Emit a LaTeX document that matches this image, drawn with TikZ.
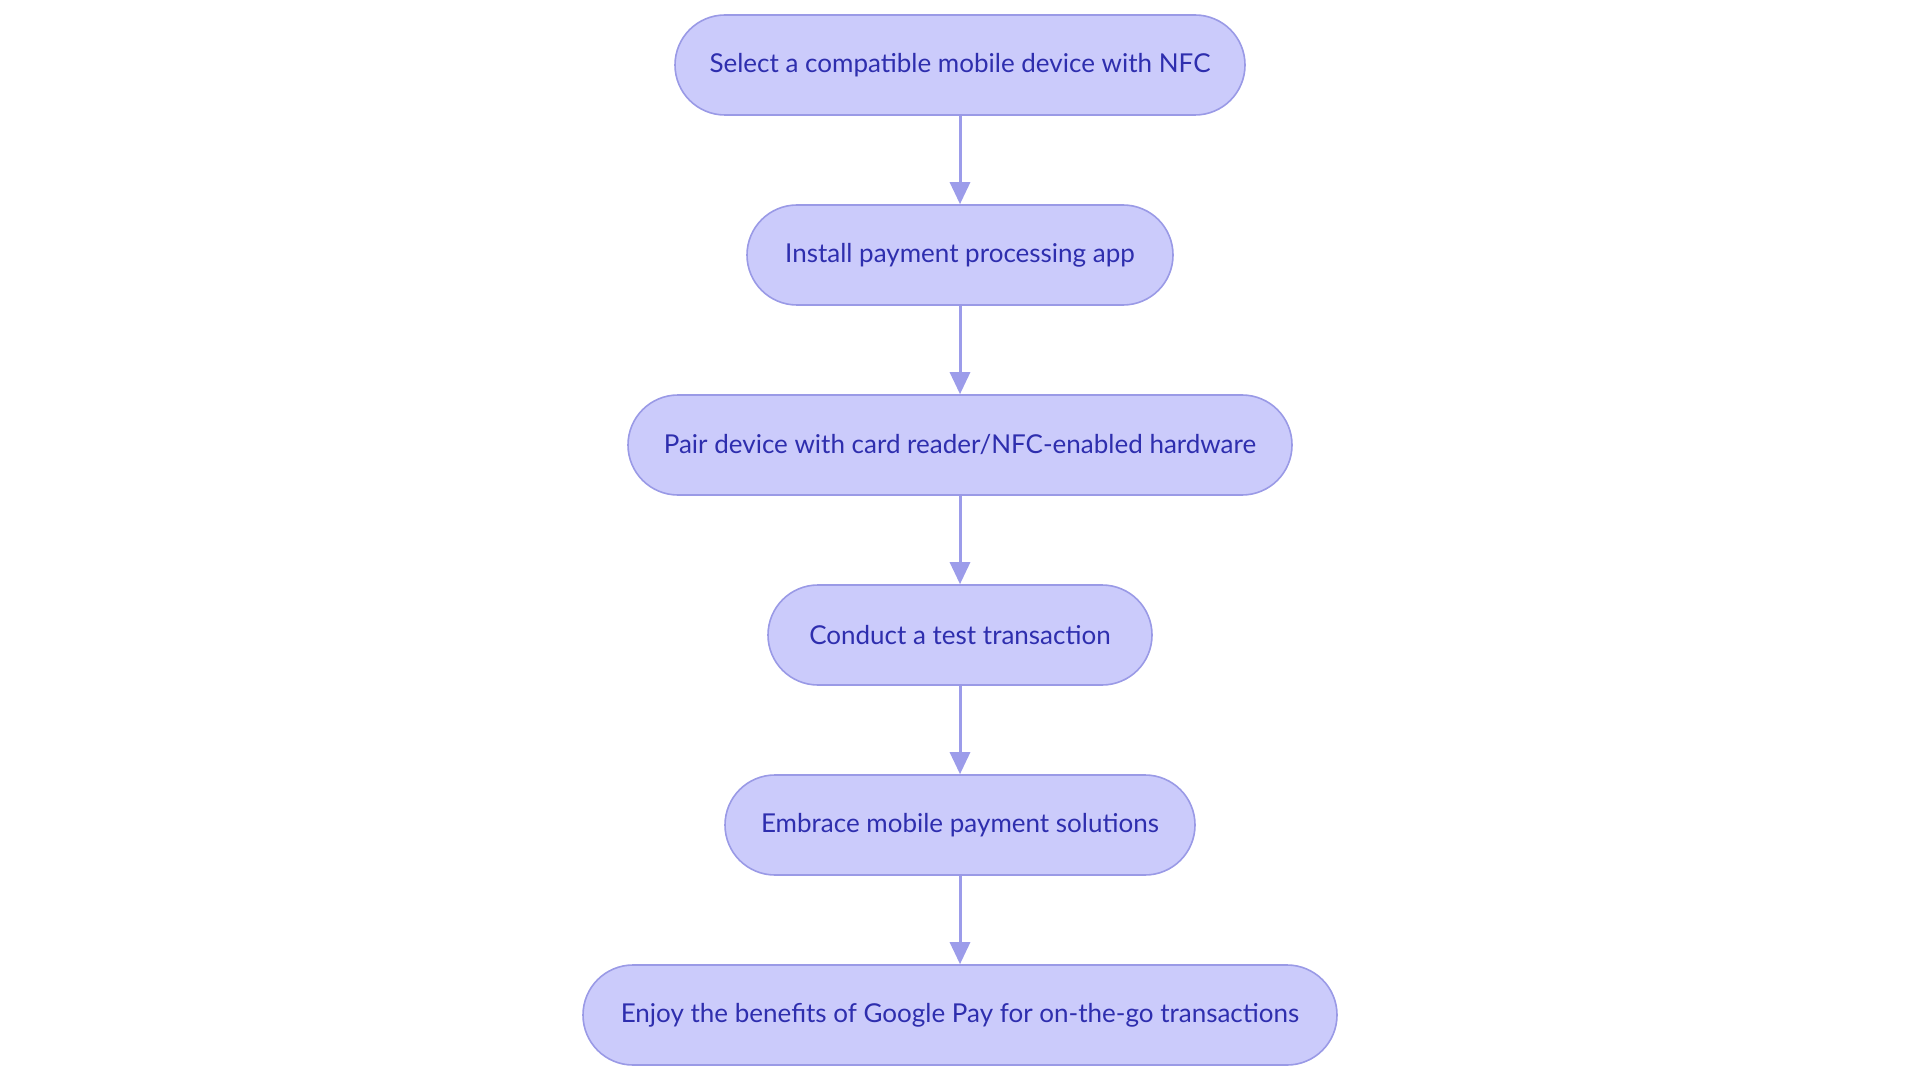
\documentclass[tikz,border=0pt]{standalone}
\usepackage{fontspec}
\setmainfont{Lato}
\usetikzlibrary{arrows.meta}
\definecolor{boxfill}{HTML}{CBCBFB}
\definecolor{boxline}{HTML}{9A9AE6}
\definecolor{txt}{HTML}{2E2EAE}
\definecolor{arr}{HTML}{9C9CEA}
\tikzset{
  stepbox/.style={draw=boxline, fill=boxfill, line width=0.8pt, rounded corners=25pt,
    minimum height=50pt, inner sep=0pt, text=txt, font=\fontsize{13}{15}\selectfont},
  flow/.style={draw=arr, line width=1.5pt, -{Triangle[length=11pt,width=10pt]}}
}
\begin{document}
\begin{tikzpicture}[x=0.5pt,y=-0.5pt]
\useasboundingbox (0,0) rectangle (1920,1080);
\node[stepbox, minimum width=285pt] (n1) at (960,65) {Select a compatible mobile device with NFC};
\node[stepbox, minimum width=213pt] (n2) at (960,255) {Install payment processing app};
\node[stepbox, minimum width=332pt] (n3) at (960,445) {Pair device with card reader/NFC-enabled hardware};
\node[stepbox, minimum width=192pt] (n4) at (960,635) {Conduct a test transaction};
\node[stepbox, minimum width=235pt] (n5) at (960,825) {Embrace mobile payment solutions};
\node[stepbox, minimum width=377pt] (n6) at (960,1015) {Enjoy the benefits of Google Pay for on-the-go transactions};
\draw[flow] (n1) -- (n2);
\draw[flow] (n2) -- (n3);
\draw[flow] (n3) -- (n4);
\draw[flow] (n4) -- (n5);
\draw[flow] (n5) -- (n6);
\end{tikzpicture}
\end{document}
